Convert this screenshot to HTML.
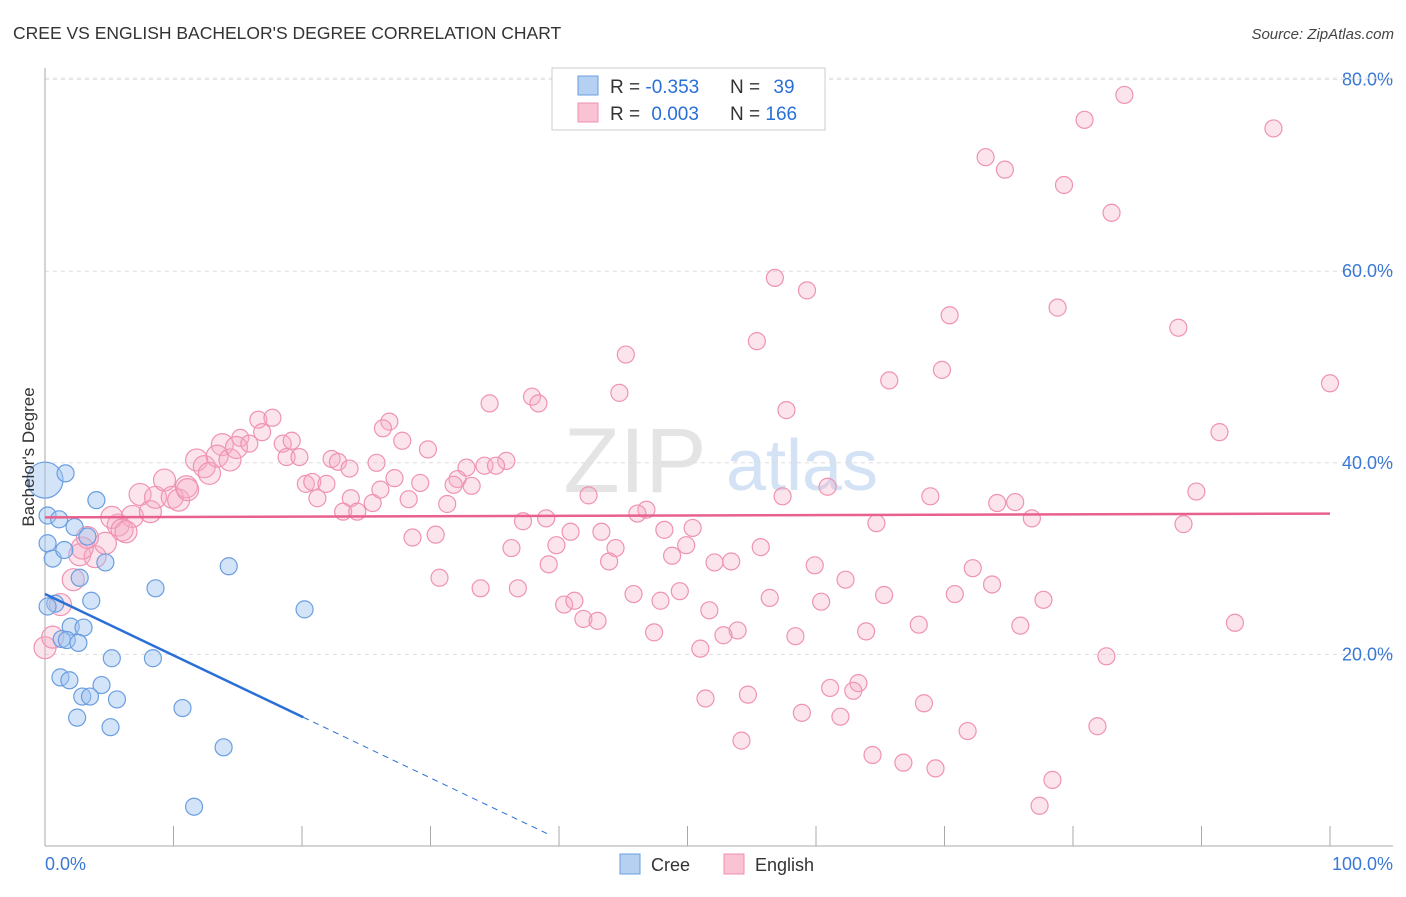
<!DOCTYPE html>
<html><head><meta charset="utf-8"><style>
body{margin:0;background:#fff;font-family:"Liberation Sans",sans-serif;}
svg text{font-family:"Liberation Sans",sans-serif;}
</style></head><body>
<svg id="chart" width="1406" height="892" viewBox="0 0 1406 892">
<text x="13" y="39" font-size="17.5" fill="#333">CREE VS ENGLISH BACHELOR'S DEGREE CORRELATION CHART</text>
<text x="1394" y="39" font-size="15" fill="#444" font-style="italic" text-anchor="end">Source: ZipAtlas.com</text>
<g>
<text x="635" y="492" font-size="92" fill="#e4e4e4" font-family="Liberation Serif" text-anchor="middle">ZIP</text>
<text x="802" y="490" font-size="72" fill="#d3e2f4" text-anchor="middle">atlas</text>
</g>
<g id="grid"></g>
<g id="axes"></g>
<g id="pts"></g>
<g id="lines"></g>
<text transform="translate(34,457) rotate(-90)" font-size="17" fill="#333" text-anchor="middle">Bachelor's Degree</text>
<text x="45" y="870" font-size="18" fill="#3a78d6">0.0%</text>
<text x="1393" y="870" font-size="18" fill="#3a78d6" text-anchor="end">100.0%</text>
<g>
<rect x="552" y="68" width="273" height="62" fill="#fff" stroke="#ccc"/>
<rect x="578" y="76" width="20" height="19" fill="#b6d0f2" stroke="#6a9ee0"/>
<rect x="578" y="103" width="20" height="19" fill="#f9c3d4" stroke="#ef8fb0"/>
<text x="610" y="93" font-size="19" fill="#333">R = <tspan fill="#2a6fd6">-0.353</tspan></text>
<text x="730" y="93" font-size="19" fill="#333">N = <tspan fill="#2a6fd6" dx="8">39</tspan></text>
<text x="610" y="120" font-size="19" fill="#333">R = <tspan fill="#2a6fd6" dx="6">0.003</tspan></text>
<text x="730" y="120" font-size="19" fill="#333">N = <tspan fill="#2a6fd6">166</tspan></text>
</g>
<g>
<rect x="620" y="854" width="20" height="20" fill="#b6d0f2" stroke="#6a9ee0"/>
<text x="651" y="871" font-size="18" fill="#333">Cree</text>
<rect x="724" y="854" width="20" height="20" fill="#f9c3d4" stroke="#ef8fb0"/>
<text x="755" y="871" font-size="18" fill="#333">English</text>
</g>
</svg>
<script>
const yTicks=[20,40,60,80];
const yTickLabels=["20.0%","40.0%","60.0%","80.0%"];
const xTicks=[0,10,20,30,40,50,60,70,80,90,100];
const creeX=[0,1.6,4.0,0.2,1.1,2.3,0.2,3.3,0.6,1.5,4.7,2.7,3.6,8.6,14.3,0.8,20.2,2.0,3.0,1.3,1.7,2.6,5.2,8.4,1.2,1.9,4.4,2.9,3.5,5.6,2.5,5.1,10.7,13.9,11.6,0.2];
const creeY=[38.2,38.9,36.1,34.5,34.1,33.3,31.6,32.3,30.0,30.9,29.6,28.0,25.6,26.9,29.2,25.3,24.7,22.9,22.8,21.6,21.5,21.2,19.6,19.6,17.6,17.3,16.8,15.6,15.6,15.3,13.4,12.4,14.4,10.3,4.1,25.0];
const engX=[84.0,80.9,95.6,73.2,74.7,79.3,83.0,56.8,59.3,70.4,78.8,88.2,55.4,45.2,65.7,69.8,100,44.7,34.6,37.9,38.4,57.7,26.8,26.3,27.8,29.8,91.4,32.8,34.2,35.9,35.1,32.1,31.8,33.2,27.2,29.2,28.3,31.3,23.8,25.5,23.2,24.3,42.3,46.8,46.1,60.9,68.9,57.4,89.6,74.1,75.5,76.8,64.7,88.6,37.2,39.0,40.9,43.3,48.2,50.4,28.6,30.4,39.8,44.4,49.9,55.7,36.3,39.2,43.9,48.8,52.1,53.4,30.7,33.9,36.8,59.9,62.3,72.2,73.7,45.8,47.9,49.4,40.4,41.2,56.4,60.4,65.3,70.8,77.7,51.7,75.9,92.6,41.9,43.0,47.4,53.9,52.8,58.4,63.9,68.0,51.0,82.6,51.4,54.7,61.1,63.3,62.9,68.4,58.9,61.9,71.8,81.9,54.2,64.4,66.8,69.3,78.4,77.4,0,0.6,1.2,2.2,2.7,3.9,4.7,5.7,5.2,3.3,2.9,6.8,7.4,8.2,8.6,9.3,9.9,10.4,11.0,11.1,11.8,12.4,12.8,13.8,13.4,14.4,15.2,14.9,15.9,16.6,16.9,17.7,18.5,19.2,18.8,19.8,20.3,20.8,21.2,21.9,22.3,22.8,23.7,25.8,26.1,6.0,6.3];
const engY=[78.4,75.8,74.9,71.9,70.6,69.0,66.1,59.3,58.0,55.4,56.2,54.1,52.7,51.3,48.6,49.7,48.3,47.3,46.2,46.9,46.2,45.5,44.3,43.6,42.3,41.4,43.2,39.5,39.7,40.2,39.7,38.3,37.7,37.6,38.4,37.9,36.2,35.7,36.3,35.8,34.9,34.9,36.6,35.1,34.7,37.5,36.5,36.5,37.0,35.8,35.9,34.2,33.7,33.6,33.9,34.2,32.8,32.8,33.0,33.2,32.2,32.5,31.4,31.1,31.4,31.2,31.1,29.4,29.7,30.3,29.6,29.7,28.0,26.9,26.9,29.3,27.8,29.0,27.3,26.3,25.6,26.6,25.2,25.6,25.9,25.5,26.2,26.3,25.7,24.6,23.0,23.3,23.7,23.5,22.3,22.5,22.0,21.9,22.4,23.1,20.6,19.8,15.4,15.8,16.5,17.0,16.2,14.9,13.9,13.5,12.0,12.5,11.0,9.5,8.7,8.1,6.9,4.2,20.7,21.8,25.2,27.8,30.4,30.2,31.6,33.5,34.3,32.2,31.1,34.4,36.7,34.9,36.4,38.2,36.4,36.1,37.5,37.2,40.3,39.6,38.9,41.9,40.7,40.3,42.6,41.6,42.0,44.5,43.2,44.7,42.0,42.3,40.6,40.6,37.8,38.0,36.3,37.8,40.4,40.1,39.4,40.0,37.2,33.0,32.8];
const creeFit=[26.3,-0.64];
const engFit=[34.3,0.004];
const X0=45,X1=1330,Y0=846,YS=9.58;
const sx=v=>X0+(X1-X0)*v/100, sy=v=>Y0-v*YS;
const NS="http://www.w3.org/2000/svg";
function mk(tag,attrs,parent){const e=document.createElementNS(NS,tag);for(const k in attrs)e.setAttribute(k,attrs[k]);document.getElementById(parent).appendChild(e);return e;}
yTicks.forEach((t,i)=>{
 const g=mk('line',{x1:45,x2:1393,y1:sy(t),y2:sy(t),stroke:'#ddd','stroke-dasharray':'4,4'},'grid');
 
 
 const l=mk('text',{x:1393,y:sy(t)+6,'font-size':18,fill:'#3a78d6','text-anchor':'end'},'grid');
 l.textContent=yTickLabels[i];
 
 
});
const tl=mk('line',{x1:45,x2:1393,y1:78,y2:78,stroke:'#e4e4e4','stroke-dasharray':'4,4'},'grid');


const ya=mk('line',{x1:45,x2:45,y1:68,y2:846,stroke:'#aaa'},'axes');


const xa=mk('line',{x1:45,x2:1393,y1:846,y2:846,stroke:'#aaa'},'axes');


xTicks.forEach(t=>{
 const k=mk('line',{x1:sx(t),x2:sx(t),y1:826,y2:846,stroke:'#aaa'},'axes');
 
 
});
engX.forEach((x,i)=>{
 const c=mk('circle',{cx:sx(x),cy:sy(engY[i]),r:x<15?11:8.5,fill:'rgba(245,170,195,0.32)',stroke:'#ef93b3','stroke-width':1.2},'pts');
 
 
});
creeX.forEach((x,i)=>{
 const c=mk('circle',{cx:sx(x),cy:sy(creeY[i]),r:i===0?18:8.5,fill:'rgba(160,196,240,0.45)',stroke:'#6a9ee0','stroke-width':1.2},'pts');
 
 
});
const f=(p,x)=>p[0]+p[1]*x;
const bl=mk('line',{x1:sx(0),y1:sy(f(creeFit,0)),x2:sx(20.1),y2:sy(f(creeFit,20.1)),stroke:'#2a6fd6','stroke-width':2.5},'lines');


const bd=mk('line',{x1:sx(20.1),y1:sy(f(creeFit,20.1)),x2:sx(39.3),y2:sy(f(creeFit,39.3)),stroke:'#2a6fd6','stroke-width':1,'stroke-dasharray':'6,5'},'lines');


const pl=mk('line',{x1:sx(0),y1:sy(f(engFit,0)),x2:sx(100),y2:sy(f(engFit,100)),stroke:'#e8608c','stroke-width':2.5},'lines');


</script>
</body></html>
